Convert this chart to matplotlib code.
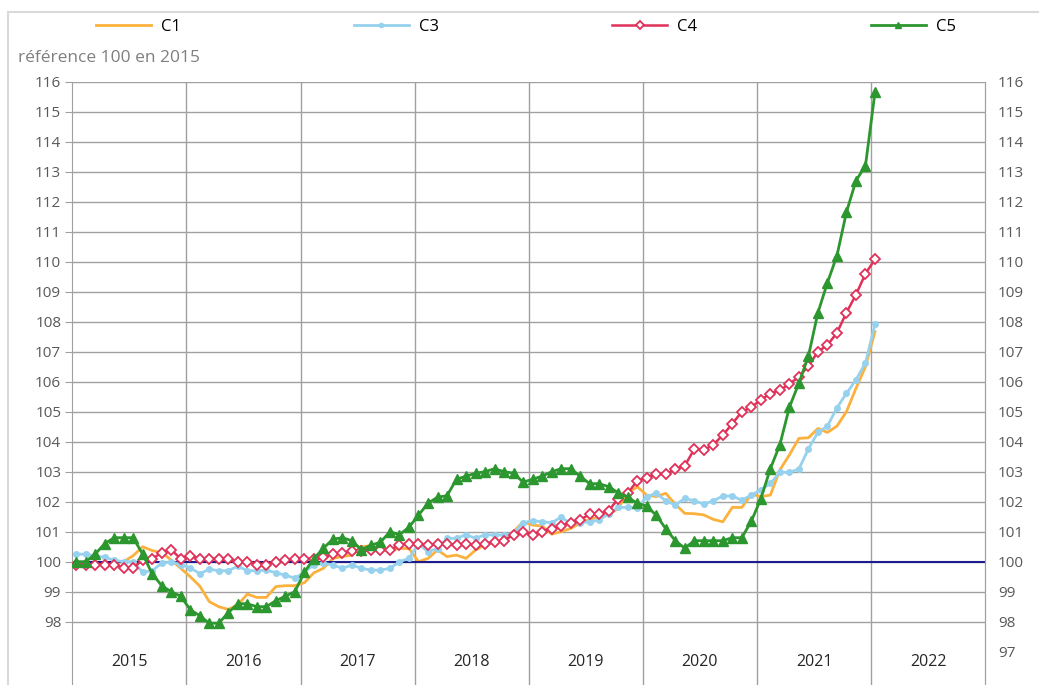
import matplotlib
matplotlib.use("Agg")
from matplotlib import pyplot as plt
from matplotlib.patches import Rectangle
import numpy as np

plt.rcParams['font.family'] = ['Open Sans', 'DejaVu Sans']

# monthly index, jan 2015 -> jan 2022
years = ['2015', '2016', '2017', '2018', '2019', '2020', '2021', '2022']

c1 = [99.9, 99.9, 99.9, 99.95, 99.95, 100.0, 100.2, 100.5, 100.37, 100.3, 100.06, 99.78,
      99.5, 99.19, 98.67, 98.5, 98.41, 98.56, 98.92, 98.81, 98.81, 99.17, 99.2, 99.2,
      99.3, 99.63, 99.78, 100.11, 100.17, 100.22, 100.5, 100.53, 100.39, 100.39, 100.44, 100.44,
      100.0, 100.11, 100.39, 100.17, 100.22, 100.11, 100.39, 100.56, 100.67, 100.72, 101.0, 101.33,
      101.22, 101.19, 100.92, 101.0, 101.11, 101.28, 101.41, 101.5, 101.56, 101.78, 102.28, 102.5,
      102.22, 102.17, 102.28, 101.92, 101.61, 101.6, 101.56, 101.41, 101.33, 101.81, 101.81, 102.25,
      102.17, 102.22, 103.06, 103.56, 104.11, 104.13, 104.44, 104.31, 104.52, 105.0, 105.78, 106.5,
      107.67]

c3 = [100.25, 100.25, 100.2, 100.15, 100.05, 100.0, 100.0, 99.65, 99.7, 99.95, 100.0, 99.9,
      99.8, 99.6, 99.75, 99.7, 99.7, 99.85, 99.7, 99.7, 99.72, 99.63, 99.55, 99.45,
      99.65, 99.9, 99.95, 99.89, 99.78, 99.89, 99.78, 99.72, 99.72, 99.78, 100.0, 100.11,
      100.6, 100.33, 100.44, 100.78, 100.78, 100.9, 100.78, 100.9, 100.89, 100.89, 100.94, 101.3,
      101.37, 101.33, 101.3, 101.48, 101.28, 101.3, 101.33, 101.39, 101.6, 101.81, 101.81, 101.78,
      102.17, 102.28, 102.03, 101.89, 102.11, 102.03, 101.92, 102.03, 102.19, 102.19, 102.05, 102.22,
      102.4, 102.61, 102.98, 102.98, 103.09, 103.76, 104.31, 104.52, 105.13, 105.61, 106.06, 106.63,
      107.91]

c4 = [99.9, 99.9, 99.9, 99.9, 99.9, 99.8, 99.8, 100.05, 100.1, 100.3, 100.4, 100.1,
      100.2, 100.1, 100.1, 100.1, 100.1, 100.0, 100.0, 99.9, 99.9, 100.0, 100.05, 100.1,
      100.1, 100.1, 100.15, 100.25, 100.3, 100.35, 100.35, 100.4, 100.4, 100.4, 100.55, 100.6,
      100.6, 100.55, 100.6, 100.6, 100.55, 100.6, 100.55, 100.6, 100.65, 100.7, 100.9, 100.98,
      100.9, 101.0, 101.1, 101.2, 101.3, 101.4, 101.58, 101.58, 101.7, 102.1, 102.28, 102.7,
      102.8, 102.92, 102.92, 103.08, 103.2, 103.75, 103.72, 103.9, 104.22, 104.6, 105.0, 105.15,
      105.4, 105.6, 105.72, 105.92, 106.17, 106.52, 107.0, 107.22, 107.63, 108.3, 108.9, 109.6,
      110.08]

c5 = [100.0, 100.0, 100.25, 100.6, 100.8, 100.8, 100.8, 100.25, 99.6, 99.2, 99.0, 98.85,
      98.4, 98.2, 97.95, 97.95, 98.3, 98.6, 98.6, 98.5, 98.5, 98.7, 98.85, 99.0,
      99.65, 100.1, 100.45, 100.75, 100.8, 100.7, 100.4, 100.55, 100.65, 101.0, 100.9, 101.15,
      101.55, 101.95, 102.15, 102.2, 102.75, 102.85, 102.95, 103.0, 103.1, 103.0, 102.95, 102.65,
      102.75, 102.85, 103.0, 103.1, 103.1, 102.85, 102.6, 102.6, 102.5, 102.3, 102.15, 101.95,
      101.85, 101.55, 101.1, 100.7, 100.45, 100.7, 100.7, 100.7, 100.7, 100.8, 100.8, 101.35,
      102.1, 103.1, 103.9, 105.15, 105.95, 106.85, 108.3, 109.3, 110.2, 111.65, 112.7, 113.2,
      115.65]

months = np.arange(len(c1))
grey = '#A0A0A0'
txt = '#595959'

fig = plt.figure(figsize=(10.39, 6.85), dpi=100)
ax = fig.add_axes([72.3 / 1039, 0, 913 / 1039, (685 - 81.7) / 685])

ax.set_xlim(-0.4, 95.6)
ax.set_ylim(116 - 603.3 / 30, 116)

# grid
for v in range(98, 117):
    ax.axhline(v, color=grey, lw=1, zorder=1)
for k in range(1, 8):
    ax.axvline(12 * k - 0.4, color=grey, lw=1, zorder=1)
for k, y in enumerate(years):
    ax.text(12 * k + 5.6, 96.66, y, ha='center', va='center', fontsize=11.5, color='#262626')

ax.plot(months, c1, color='#FBB13C', lw=2, zorder=2, label='C1')
ax.axhline(100, color='#1C1C8E', lw=1.5, zorder=2.5)
ax.plot(months, c3, color='#96D2EE', lw=2, marker='o', ms=4, zorder=3, label='C3')
ax.plot(months, c4, color='#DF3159', lw=1.8, marker='D', ms=5, mfc='white',
        mec='#DF3159', mew=1.3, zorder=4, label='C4')
ax.plot(months, c5, color='#2C962F', lw=2, marker='^', ms=6.5, zorder=5, label='C5')

ax.set_xticks([])
ax.set_yticks(range(98, 117))
ax.tick_params(axis='y', length=5, color=grey, labelcolor=txt, labelsize=11, pad=3)
for s in ['top', 'bottom']:
    ax.spines[s].set_visible(False)
for s in ['left', 'right']:
    ax.spines[s].set_color(grey)

ax2 = ax.twinx()
ax2.set_ylim(ax.get_ylim())
ax2.set_yticks(range(97, 117))
ax2.tick_params(axis='y', length=0, labelcolor=txt, labelsize=11, pad=9)
for s in ['top', 'bottom', 'left']:
    ax2.spines[s].set_visible(False)
ax2.spines['right'].set_color(grey)

fig.legend(loc='center', bbox_to_anchor=(0.506, 1 - 27 / 685), ncol=4, frameon=False,
           fontsize=12, handlelength=3.3, handletextpad=0.6, columnspacing=10.4,
           markerscale=0.75)

fig.text(18 / 1039, 1 - 58 / 685, 'référence 100 en 2015', va='center', ha='left',
         fontsize=12.5, color='#7F7F7F')

fig.patches.append(Rectangle((7.5 / 1039, -0.1), 1.2, 1.1 - 11.7 / 685, fill=False,
                             edgecolor='#D9D9D9', lw=1.5, transform=fig.transFigure))

fig.savefig('out.png', dpi=100)
